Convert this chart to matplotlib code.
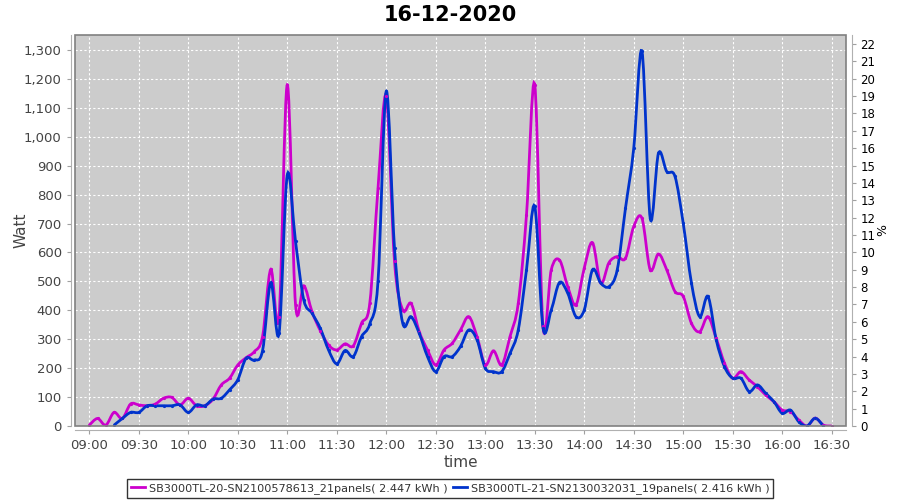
import matplotlib
matplotlib.use("Agg")
import matplotlib.pyplot as plt
import matplotlib.dates as mdates
from matplotlib.path import Path
from matplotlib.patches import PathPatch, Rectangle
from matplotlib.ticker import FuncFormatter, MultipleLocator
import numpy as np
import pandas as pd

# Data (W, 5 minute samples)
title = "16-12-2020"
label_a = "SB3000TL-20-SN2100578613_21panels( 2.447 kWh )"
label_b = "SB3000TL-21-SN2130032031_19panels( 2.416 kWh )"

watt_a = [3, 26, 3, 47, 26, 76, 73, 70, 76, 96, 99, 73,
          96, 70, 70, 93, 142, 165, 211, 236, 257, 309, 542, 378,
          1180, 420, 485, 395, 330, 280, 263, 284, 277, 355, 424, 822,
          1140, 569, 401, 424, 326, 263, 211, 263, 286, 332, 378, 309,
          211, 260, 211, 309, 424, 730, 1180, 345, 540, 574, 482, 419,
          546, 634, 494, 565, 586, 580, 690, 718, 540, 595, 540, 465,
          448, 355, 326, 378, 303, 217, 165, 188, 159, 136, 107, 84,
          55, 50, 21, 0, 27, 3, 0]
start_a = "09:00"

watt_b = [3, 26, 47, 47, 70, 70, 70, 70, 73,
          47, 73, 70, 93, 96, 125, 160, 234, 228, 260, 496, 320,
          868, 638, 436, 390, 338, 263, 215, 261, 240, 309, 353, 500,
          1157, 615, 355, 378, 320, 240, 188, 240, 240, 275, 332, 298,
          200, 188, 188, 251, 332, 540, 759, 340, 401, 496, 459, 378,
          401, 540, 494, 482, 540, 753, 960, 1295, 718, 943, 880, 863,
          701, 494, 378, 448, 298, 205, 165, 165, 119, 142, 113, 84,
          44, 55, 15, 0, 27, 0]
start_b = "09:15"

day = "2020-12-16 "
t_a = pd.date_range(day + start_a, periods=len(watt_a), freq="5min")
t_b = pd.date_range(day + start_b, periods=len(watt_b), freq="5min")


def smooth_path(x, y):
    # Catmull-Rom curve drawn as cubic Bezier through the data points
    p = np.column_stack([x, y])
    verts = [p[0]]
    codes = [Path.MOVETO]
    n = len(p)
    for i in range(n - 1):
        p0 = p[max(i - 1, 0)]
        p1 = p[i]
        p2 = p[i + 1]
        p3 = p[min(i + 2, n - 1)]
        verts += [p1 + (p2 - p0) / 6, p2 - (p3 - p1) / 6, p2]
        codes += [Path.CURVE4] * 3
    return Path(verts, codes)


fig = plt.figure(figsize=(9, 5), dpi=100)
ax = fig.add_axes([75 / 900, 74 / 500, 771 / 900, 391 / 500])
ax.set_facecolor("#cccccc")

for t, w, c in [(t_a, watt_a, "#cc00cc"), (t_b, watt_b, "#0033cc")]:
    x = mdates.date2num(t)
    ax.add_patch(PathPatch(smooth_path(x, np.array(w, float)), fill=False,
                           edgecolor=c, lw=2, zorder=3, clip_on=True))
    ax.plot(x, w, ls="none", marker="o", ms=1.3, color=c, zorder=4)

ax.set_xlim(mdates.date2num(pd.Timestamp(day + "08:51:20")),
            mdates.date2num(pd.Timestamp(day + "16:38:40")))
ax.set_ylim(0, 1352)
ax.xaxis.set_major_locator(mdates.MinuteLocator(byminute=[0, 30]))
ax.xaxis.set_major_formatter(mdates.DateFormatter("%H:%M"))
ax.yaxis.set_major_locator(MultipleLocator(100))
ax.yaxis.set_major_formatter(FuncFormatter(lambda v, p: f"{int(v):,}"))
ax.grid(True, color="white", ls=(0, (2, 2)), lw=0.8)
ax.set_axisbelow(True)

# plot border plus offset axis lines
ax.add_patch(Rectangle((0, 0), 1, 1, transform=ax.transAxes, fill=False,
                       edgecolor="#808080", lw=1.2, zorder=5, clip_on=False))
ax.spines["top"].set_visible(False)
ax.spines["right"].set_visible(False)
for side in ["left", "bottom"]:
    ax.spines[side].set_position(("outward", 3))
    ax.spines[side].set_color("#b0b0b0")
ax.tick_params(axis="both", colors="#a0a0a0", labelcolor="#444444",
               labelsize=9.5, length=3, width=0.8)
ax.set_ylabel("Watt", fontsize=11, color="#444444")
ax.yaxis.set_label_coords(-0.06, 0.5)
ax.set_xlabel("time", fontsize=11, color="#444444", labelpad=2)

ax2 = ax.twinx()
ax2.set_ylim(0, 22.52)
ax2.yaxis.set_major_locator(MultipleLocator(1))
for s in ["top", "left", "bottom"]:
    ax2.spines[s].set_visible(False)
ax2.spines["right"].set_position(("outward", 4))
ax2.spines["right"].set_color("#b0b0b0")
ax2.tick_params(axis="y", colors="#a0a0a0", labelcolor="#000000",
                labelsize=8.5, length=3, width=0.8)
ax2.set_ylabel("%", fontsize=9)
ax2.yaxis.set_label_coords(1.039, 0.5)

fig.suptitle(title, fontsize=15, fontweight="bold", y=0.99)

h_a = plt.Line2D([], [], color="#cc00cc", lw=2)
h_b = plt.Line2D([], [], color="#0033cc", lw=2)
leg = fig.legend([h_a, h_b], [label_a, label_b], loc="lower center",
                 bbox_to_anchor=(0.5, 0.0), ncol=2, fontsize=8.1, frameon=True,
                 fancybox=False, edgecolor="black", handlelength=1.3,
                 handletextpad=0.3, columnspacing=0.5, borderpad=0.35,
                 borderaxespad=0.2, labelcolor="#333333")
leg.get_frame().set_linewidth(1)

plt.savefig("out.png", dpi=100)
